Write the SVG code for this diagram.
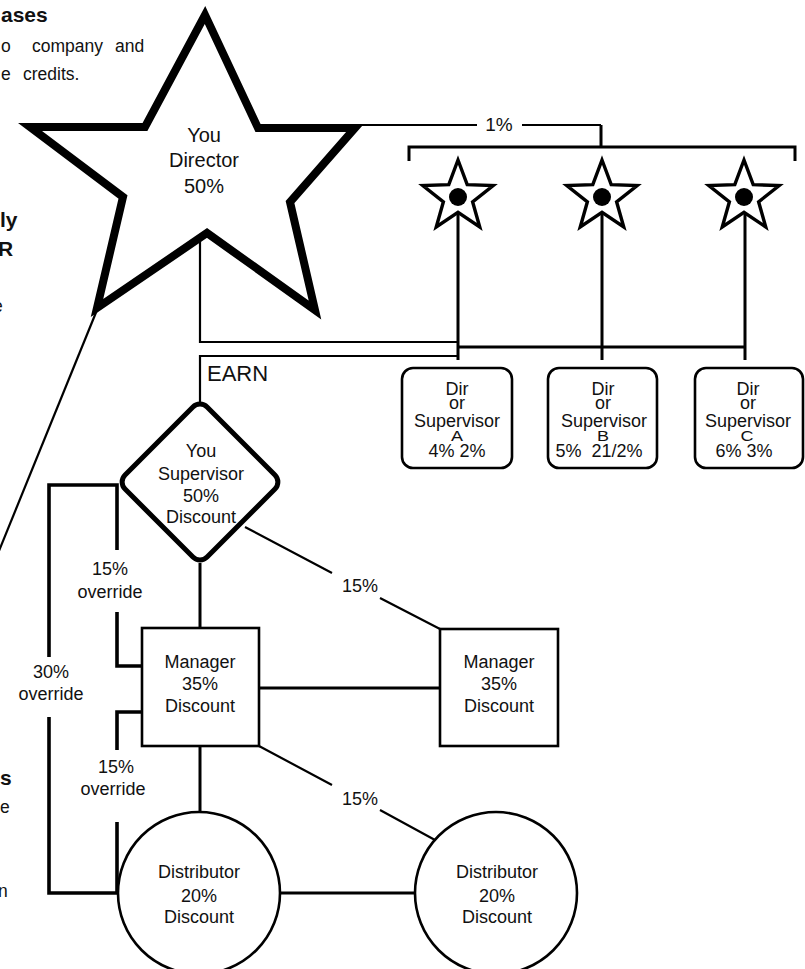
<svg xmlns="http://www.w3.org/2000/svg" xmlns:xlink="http://www.w3.org/1999/xlink" width="805" height="969" viewBox="0 0 805 969">
<style>
text{font-family:"Liberation Sans",Arial,Helvetica,sans-serif;fill:#111}
.c{text-anchor:middle;font-size:18px}
.big{text-anchor:middle;font-size:20px}
.side{font-size:17.5px}
.sideb{font-size:21px;font-weight:bold}
.thin{fill:none;stroke:#000;stroke-width:2.2}
.med{fill:none;stroke:#000;stroke-width:3}
.thick{fill:none;stroke:#000;stroke-width:3.6}
.node{fill:#fff;stroke:#000;stroke-width:2.6}
</style>
<defs>
<path id="sstar" d="M0,-37 L9.2,-12.4 L35.19,-11.43 L14.6,4.8 L21.75,29.93 L0,15.4 L-21.75,29.93 L-14.6,4.8 L-35.19,-11.43 L-9.2,-12.4 Z" fill="#fff" stroke="#000" stroke-width="3.4" stroke-linejoin="miter"/>
</defs>
<rect width="805" height="969" fill="#fff"/>

<g id="side-text">
<text class="sideb" x="1" y="22">ases</text>
<text class="side" x="1" y="52">o</text>
<text class="side" x="32" y="52">company</text>
<text class="side" x="115" y="52">and</text>
<text class="side" x="1" y="80">e</text>
<text class="side" x="23" y="80">credits.</text>
<text class="sideb" x="0" y="227">ly</text>
<text class="sideb" x="-2" y="256">R</text>
<text class="side" x="-7" y="312">e</text>
<text class="sideb" x="0" y="785">s</text>
<text class="side" x="0" y="813">e</text>
<text class="side" x="-2" y="897">n</text>
</g>

<g id="connectors">
<path class="thin" d="M97,310 L-8,568"/>
<path class="thin" d="M200,237 V342 H458"/>
<path class="thin" d="M200,402 V356 H458"/>
<path class="med" d="M458,212 V360 M602,212 V360 M745,212 V360 M458,347 H745"/>
<path class="med" d="M409,161 V147 H795 V161 M601,147 V125"/>
<path class="thin" d="M355,125 H477 M522,125 H601"/>
<text class="c" x="499" y="131" style="font-size:19px">1%</text>
<path class="med" d="M200,563 V628"/>
<path class="thin" d="M245,527 L332,573 M380,598 L440,629"/>
<text class="c" x="360" y="592">15%</text>
<path class="med" d="M259,688 H440"/>
<path class="med" d="M200,746 V812"/>
<path class="thin" d="M259,746 L332,785 M380,810 L435,840"/>
<text class="c" x="360" y="805">15%</text>
<path class="med" d="M280,893 H415"/>
<path class="thick" d="M117,550 V485 H49 V657"/>
<path class="thick" d="M49,717 V893 H117"/>
<path class="thick" d="M117,612 V666 H142"/>
<path class="thick" d="M142,712 H117 V750"/>
<path class="thick" d="M117,822 V893"/>
<text class="c" x="110" y="575">15%</text>
<text class="c" x="110" y="598">override</text>
<text class="c" x="51" y="678">30%</text>
<text class="c" x="51" y="700">override</text>
<text class="c" x="116" y="773">15%</text>
<text class="c" x="113" y="795">override</text>
<text x="207" y="381" style="font-size:22px">EARN</text>
</g>

<g id="director">
<polygon points="205,15 258,128 355,128 290,202 315,310 207,233 97,308 123,197 30,127 145,127" fill="#fff" stroke="#000" stroke-width="8" stroke-linejoin="miter"/>
<text class="big" x="204" y="142">You</text>
<text class="big" x="204" y="167">Director</text>
<text class="big" x="204" y="193">50%</text>
</g>

<g id="star-a"><use xlink:href="#sstar" href="#sstar" x="458" y="197"/><circle cx="458" cy="197" r="9" fill="#000"/></g>
<g id="star-b"><use xlink:href="#sstar" href="#sstar" x="602" y="197"/><circle cx="602" cy="197" r="9" fill="#000"/></g>
<g id="star-c"><use xlink:href="#sstar" href="#sstar" x="744" y="197"/><circle cx="744" cy="197" r="9" fill="#000"/></g>

<g id="box-a">
<rect class="node" x="402" y="368" width="110" height="100" rx="11"/>
<text class="c" x="457" y="395">Dir</text>
<text class="c" x="457" y="409">or</text>
<text class="c" x="457" y="427">Supervisor</text>
<text class="c" transform="translate(457,441) scale(1,0.78)">A</text>
<text class="c" x="457" y="457">4% 2%</text>
</g>
<g id="box-b">
<rect class="node" x="548" y="368" width="109" height="100" rx="11"/>
<text class="c" x="603" y="395">Dir</text>
<text class="c" x="603" y="409">or</text>
<text class="c" x="604" y="427">Supervisor</text>
<text class="c" transform="translate(603,441) scale(1,0.78)">B</text>
<text class="c" x="599" y="457" style="white-space:pre">5%  21/2%</text>
</g>
<g id="box-c">
<rect class="node" x="695" y="368" width="108" height="100" rx="11"/>
<text class="c" x="748" y="395">Dir</text>
<text class="c" x="748" y="409">or</text>
<text class="c" x="748" y="427">Supervisor</text>
<text class="c" transform="translate(747,441) scale(1,0.78)">C</text>
<text class="c" x="744" y="457">6% 3%</text>
</g>

<g id="supervisor">
<rect x="-58" y="-58" width="116" height="116" rx="10" transform="translate(200,482) rotate(45)" fill="#fff" stroke="#000" stroke-width="5"/>
<text class="c" x="201" y="457">You</text>
<text class="c" x="201" y="480">Supervisor</text>
<text class="c" x="201" y="502">50%</text>
<text class="c" x="201" y="523">Discount</text>
</g>

<g id="manager-left">
<rect class="node" x="142" y="628" width="117" height="118"/>
<text class="c" x="200" y="668">Manager</text>
<text class="c" x="200" y="690">35%</text>
<text class="c" x="200" y="712">Discount</text>
</g>
<g id="manager-right">
<rect class="node" x="440" y="629" width="118" height="117"/>
<text class="c" x="499" y="668">Manager</text>
<text class="c" x="499" y="690">35%</text>
<text class="c" x="499" y="712">Discount</text>
</g>

<g id="distributor-left">
<circle class="node" cx="199" cy="893" r="81"/>
<text class="c" x="199" y="878">Distributor</text>
<text class="c" x="199" y="902">20%</text>
<text class="c" x="199" y="923">Discount</text>
</g>
<g id="distributor-right">
<circle class="node" cx="496" cy="893" r="81"/>
<text class="c" x="497" y="878">Distributor</text>
<text class="c" x="497" y="902">20%</text>
<text class="c" x="497" y="923">Discount</text>
</g>
</svg>
